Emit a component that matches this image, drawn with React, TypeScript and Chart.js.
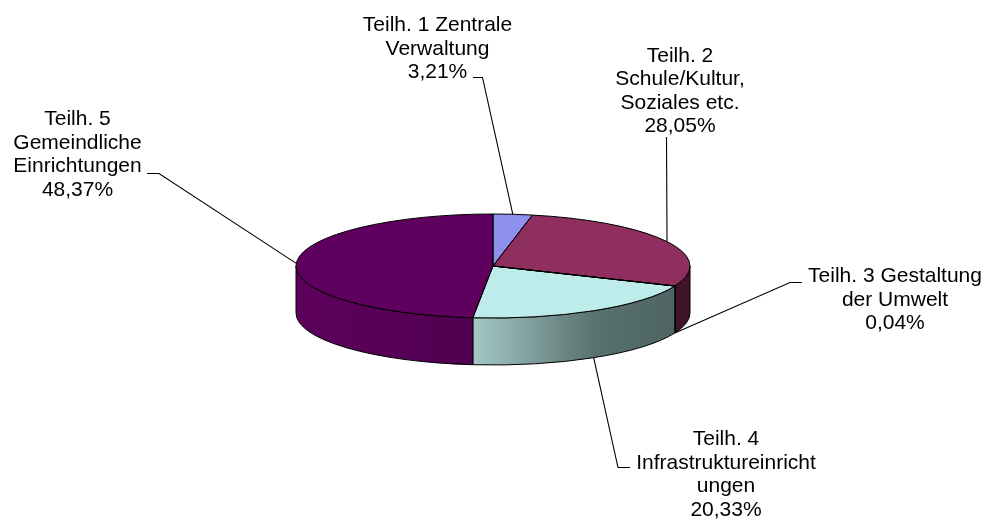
import React, { useEffect, useRef } from "react";
import { Chart, registerables } from "chart.js";

Chart.register(...registerables);

// ---- data ----
const categories = [
  "Teilh. 1 Zentrale Verwaltung",
  "Teilh. 2 Schule/Kultur, Soziales etc.",
  "Teilh. 3 Gestaltung der Umwelt",
  "Teilh. 4 Infrastruktureinrichtungen",
  "Teilh. 5 Gemeindliche Einrichtungen",
];
const shares = [3.21, 28.05, 0.04, 20.33, 48.37];
const labelNameLines = [
  ["Teilh. 1 Zentrale", "Verwaltung"],
  ["Teilh. 2", "Schule/Kultur,", "Soziales etc."],
  ["Teilh. 3 Gestaltung", "der Umwelt"],
  ["Teilh. 4", "Infrastruktureinricht", "ungen"],
  ["Teilh. 5", "Gemeindliche", "Einrichtungen"],
];

// ---- styles ----
const topColors = ["#8f8fec", "#8e2f5f", "#ffffcc", "#bdeceb", "#5f005f"];
const wallLeftColors = ["#6a6ab0", "#3f1529", "#b0b090", "#a4c8c6", "#5c005c"];
const wallMidColors = ["#6a6ab0", "#3f1529", "#b0b090", "#58726f", "#560056"];
const wallRightColors = ["#6a6ab0", "#3f1529", "#b0b090", "#4d6463", "#4f004f"];

const K = 52 / 197; // vertical squash of the pie (tilt)
const DEPTH = 47;
const FONT = '21px "Liberation Sans", Arial, sans-serif';
const LINE_H = 23.5;

// label placement: text centre x, first baseline y, leader elbow points
const labelLayout = [
  { x: 437.5, y: 31, elbow: [[473, 77.5], [482.5, 77.5]] },
  { x: 680, y: 61.5, elbow: [[666.5, 137]] },
  { x: 895, y: 282, elbow: [[802, 282.5], [790, 282.5]] },
  { x: 726, y: 445, elbow: [[630, 467.5], [618, 467.5]] },
  { x: 77.5, y: 125, elbow: [[147, 173.5], [159, 173.5]] },
];

const fmtPct = (v: number) => v.toFixed(2).replace(".", ",") + "%";

const pie3d = {
  id: "pie3d",
  beforeDatasetsDraw(chart: any) {
    const ctx = chart.ctx as CanvasRenderingContext2D;
    const arcs = chart.getDatasetMeta(0).data;
    const { x: cx, y: cy, outerRadius: R } = arcs[0].getProps(["x", "y", "outerRadius"], true);
    const ry = R * K;
    ctx.save();
    ctx.lineWidth = 1;
    ctx.strokeStyle = "#000";
    arcs.forEach((arc: any, i: number) => {
      const { startAngle, endAngle } = arc.getProps(["startAngle", "endAngle"], true);
      const a = Math.max(startAngle, 0);
      const b = Math.min(endAngle, Math.PI);
      if (b <= a) return;
      ctx.beginPath();
      ctx.ellipse(cx, cy, R, ry, 0, a, b);
      ctx.lineTo(cx + R * Math.cos(b), cy + ry * Math.sin(b) + DEPTH);
      ctx.ellipse(cx, cy + DEPTH, R, ry, 0, b, a, true);
      ctx.closePath();
      const xl = cx + R * Math.cos(b);
      const xr = cx + R * Math.cos(a);
      if (xr - xl > 1) {
        const g = ctx.createLinearGradient(xl, 0, xr, 0);
        g.addColorStop(0, wallLeftColors[i]);
        g.addColorStop(0.6, wallMidColors[i]);
        g.addColorStop(1, wallRightColors[i]);
        ctx.fillStyle = g;
      } else {
        ctx.fillStyle = wallRightColors[i];
      }
      ctx.fill();
      ctx.stroke();
    });
    ctx.restore();
    ctx.save();
    ctx.translate(cx, cy);
    ctx.scale(1, K);
    ctx.translate(-cx, -cy);
  },
  afterDatasetsDraw(chart: any) {
    const ctx = chart.ctx as CanvasRenderingContext2D;
    ctx.restore();
    const arcs = chart.getDatasetMeta(0).data;
    const { x: cx, y: cy, outerRadius: R } = arcs[0].getProps(["x", "y", "outerRadius"], true);
    const ry = R * K;
    ctx.save();
    ctx.lineWidth = 1;
    ctx.strokeStyle = "#000";
    arcs.forEach((arc: any) => {
      const { startAngle, endAngle } = arc.getProps(["startAngle", "endAngle"], true);
      ctx.beginPath();
      ctx.moveTo(cx, cy);
      ctx.lineTo(cx + R * Math.cos(startAngle), cy + ry * Math.sin(startAngle));
      ctx.ellipse(cx, cy, R, ry, 0, startAngle, endAngle);
      ctx.closePath();
      ctx.stroke();
    });
    ctx.restore();
  },
  afterDraw(chart: any) {
    const ctx = chart.ctx as CanvasRenderingContext2D;
    const arcs = chart.getDatasetMeta(0).data;
    const { x: cx, y: cy, outerRadius: R } = arcs[0].getProps(["x", "y", "outerRadius"], true);
    const ry = R * K;
    ctx.save();
    ctx.font = FONT;
    ctx.textAlign = "center";
    ctx.textBaseline = "alphabetic";
    ctx.fillStyle = "#000";
    ctx.strokeStyle = "#000";
    ctx.lineWidth = 1.1;
    arcs.forEach((arc: any, i: number) => {
      const { startAngle, endAngle } = arc.getProps(["startAngle", "endAngle"], true);
      const m = (startAngle + endAngle) / 2;
      let ax = cx + R * Math.cos(m);
      let ay = cy + ry * Math.sin(m);
      if (Math.sin(m) > 0) ay += DEPTH;
      const lay = labelLayout[i];
      ctx.beginPath();
      ctx.moveTo(lay.elbow[0][0], lay.elbow[0][1]);
      for (let k = 1; k < lay.elbow.length; k++) ctx.lineTo(lay.elbow[k][0], lay.elbow[k][1]);
      ctx.lineTo(ax, ay);
      ctx.stroke();
      const lines = [...labelNameLines[i], fmtPct(shares[i])];
      lines.forEach((t, j) => ctx.fillText(t, lay.x, lay.y + j * LINE_H));
    });
    ctx.restore();
  },
};

export default function App() {
  const ref = useRef<HTMLCanvasElement | null>(null);
  useEffect(() => {
    if (!ref.current) return;
    const chart = new Chart(ref.current, {
      type: "pie",
      data: {
        labels: categories,
        datasets: [
          {
            data: shares,
            backgroundColor: topColors,
            borderWidth: 0,
            clip: false,
          } as any,
        ],
      },
      options: {
        responsive: false,
        animation: false,
        events: [],
        layout: { padding: { left: 296, right: 304, top: 69, bottom: 57 } },
        plugins: { legend: { display: false }, tooltip: { enabled: false } },
      },
      plugins: [pie3d],
    });
    return () => chart.destroy();
  }, []);
  return (
    <div style={{ position: "absolute", left: 0, top: 0, width: 994, height: 520, background: "#fff" }}>
      <canvas ref={ref} width={994} height={520} />
    </div>
  );
}
